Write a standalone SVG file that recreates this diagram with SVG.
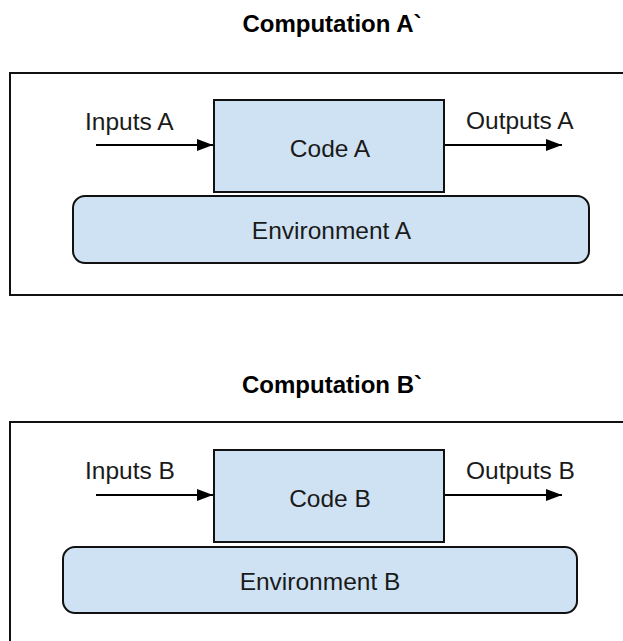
<svg xmlns="http://www.w3.org/2000/svg" width="623" height="641" viewBox="0 0 623 641">
  <style>
    .title { font-family: "Liberation Sans", Arial, sans-serif; font-size: 24px; font-weight: bold; fill: #000; }
    .lbl { font-family: "Liberation Sans", Arial, sans-serif; font-size: 24.5px; fill: #1a1a1a; }
    .outer { fill: #fff; stroke: #111; stroke-width: 2; }
    .box { fill: #cfe2f3; stroke: #111; stroke-width: 2; }
    .conn { stroke: #000; stroke-width: 2; fill: none; marker-end: url(#arr); }
  </style>
  <defs>
    <marker id="arr" markerWidth="8" markerHeight="6" refX="8" refY="3" orient="auto" markerUnits="strokeWidth">
      <path d="M0,0 L8,3 L0,6 Z" fill="#000"/>
    </marker>
  </defs>
  <rect width="623" height="641" fill="#fff"/>

  <g id="computationA">
    <text class="title" x="332" y="32" text-anchor="middle">Computation A`</text>
    <rect class="outer" x="10" y="73" width="640" height="222"/>
  </g>
  <g id="codeA">
    <rect class="box" x="214" y="100" width="230" height="92"/>
    <text class="lbl" x="330" y="157" text-anchor="middle">Code A</text>
  </g>
  <g id="envA">
    <rect class="box" x="73" y="196" width="516" height="67" rx="12" ry="12"/>
    <text class="lbl" x="331.5" y="239" text-anchor="middle">Environment A</text>
  </g>
  <g id="inputsA"><text class="lbl" x="85" y="130">Inputs A</text></g>
  <g id="outputsA"><text class="lbl" x="466" y="129">Outputs A</text></g>

  <g id="computationB">
    <text class="title" x="332" y="393" text-anchor="middle">Computation B`</text>
    <rect class="outer" x="10" y="422" width="640" height="240"/>
  </g>
  <g id="codeB">
    <rect class="box" x="214" y="450" width="230" height="92"/>
    <text class="lbl" x="330" y="507" text-anchor="middle">Code B</text>
  </g>
  <g id="envB">
    <rect class="box" x="63" y="547" width="514" height="66" rx="12" ry="12"/>
    <text class="lbl" x="320" y="590" text-anchor="middle">Environment B</text>
  </g>
  <g id="inputsB"><text class="lbl" x="85" y="479">Inputs B</text></g>
  <g id="outputsB"><text class="lbl" x="466" y="479">Outputs B</text></g>

  <g id="connectors">
    <line class="conn" x1="96" y1="145" x2="213" y2="145"/>
    <line class="conn" x1="445" y1="145" x2="562" y2="145"/>
    <line class="conn" x1="96" y1="495" x2="213" y2="495"/>
    <line class="conn" x1="445" y1="495" x2="562" y2="495"/>
  </g>
</svg>
